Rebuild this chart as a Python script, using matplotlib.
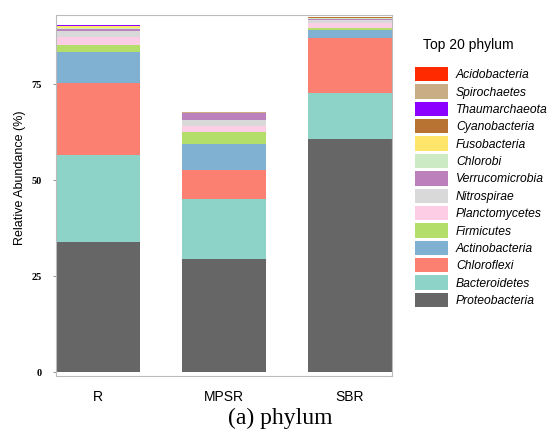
import numpy as np
import matplotlib
matplotlib.use("Agg")
import matplotlib.pyplot as plt

samples = ["R", "MPSR", "SBR"]

# stacking order, bottom to top
phyla = ["Proteobacteria", "Bacteroidetes", "Chloroflexi", "Actinobacteria",
	"Firmicutes", "Planctomycetes", "Nitrospirae", "Verrucomicrobia",
	"Chlorobi", "Fusobacteria", "Cyanobacteria", "Thaumarchaeota",
	"Spirochaetes", "Acidobacteria"]

proteobacteria = [33.9, 29.4, 60.8]
bacteroidetes = [22.7, 15.8, 11.8]
chloroflexi = [18.8, 7.4, 14.3]
actinobacteria = [7.9, 6.8, 2.3]
firmicutes = [2.0, 3.1, 0.4]
planctomycetes = [2.1, 1.5, 1.2]
nitrospirae = [1.5, 1.7, 0.9]
verrucomicrobia = [0.4, 1.7, 0.3]
chlorobi = [0.3, 0.1, 0.1]
fusobacteria = [0.5, 0.05, 0.1]
cyanobacteria = [0.0, 0.05, 0.15]
thaumarchaeota = [0.4, 0.0, 0.0]
spirochaetes = [0.0, 0.05, 0.05]
acidobacteria = [0.0, 0.05, 0.15]

values = [proteobacteria, bacteroidetes, chloroflexi, actinobacteria,
	firmicutes, planctomycetes, nitrospirae, verrucomicrobia, chlorobi,
	fusobacteria, cyanobacteria, thaumarchaeota, spirochaetes, acidobacteria]

colors = ["#666666", "#8DD3C7", "#FB8072", "#80B1D3", "#B3DE69", "#FCCDE5",
	"#D9D9D9", "#BC80BD", "#CCEBC5", "#FFE66B", "#B87333", "#8B00FF",
	"#C8AD85", "#FF2A00"]

yticks = [0, 25, 50, 75]

plt.rcParams["font.family"] = ["Liberation Sans", "DejaVu Sans"]

fig = plt.figure(figsize=(5.51, 4.30), dpi=100)
ax = fig.add_axes([56 / 551, 1 - 376 / 430, 336 / 551, 361 / 430])

x = np.arange(len(samples))
bottom = np.zeros(len(samples))
handles = []
for name, v, c in zip(phyla, values, colors):
	b = ax.bar(x, v, width=0.667, bottom=bottom, color=c, linewidth=0, label=name)
	handles.append(b)
	bottom += np.array(v)

ax.set_xlim(-0.3335, 2.3335)
ax.set_ylim(-1, 93)
ax.set_yticks(yticks)
ax.set_yticklabels([str(t) for t in yticks], family="Liberation Serif",
	fontweight="bold", fontsize=7.5)
ax.tick_params(axis="y", length=2, pad=8, color="#999999")
ax.set_xticks(x)
ax.set_xticklabels(samples, fontsize=10)
ax.tick_params(axis="x", length=0, pad=10)
for s in ax.spines.values():
	s.set_color("#BBBBBB")
	s.set_linewidth(0.8)

fig.text(20 / 551, 1 - 178 / 430, "Relative Abundance (%)", rotation=90,
	ha="center", va="center", fontsize=9)

fig.text(423 / 551, 1 - 45 / 430, "Top 20 phylum", ha="left", va="center",
	fontsize=10)
leg = fig.legend(handles[::-1], phyla[::-1], loc="upper left",
	bbox_to_anchor=(415 / 551, 1 - 67 / 430), frameon=False, borderpad=0,
	borderaxespad=0, handlelength=2.75, handleheight=1.45, labelspacing=0.25,
	handletextpad=0.65, prop={"style": "italic", "size": 8.7})

fig.text(280 / 551, 1 - 418 / 430, "(a) phylum", ha="center", va="center",
	family="Liberation Serif", fontsize=17)

fig.savefig("out.png", dpi=100)
